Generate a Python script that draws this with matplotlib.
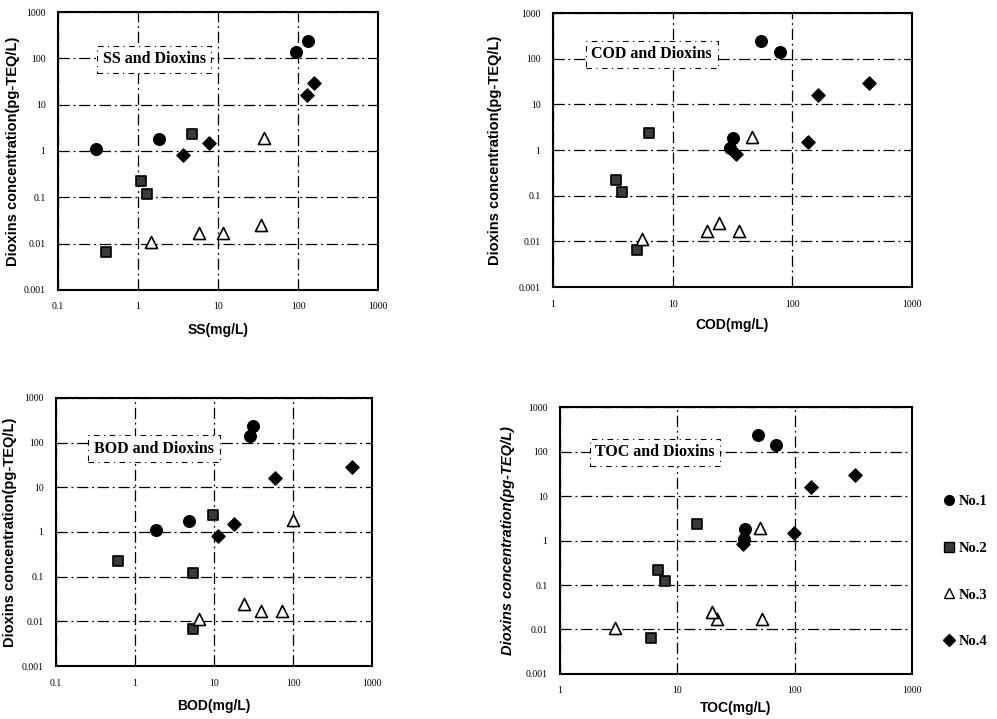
import matplotlib
matplotlib.use("Agg")
import matplotlib.pyplot as plt
from matplotlib.lines import Line2D

# ---------------- data ----------------
series_names = ["No.1", "No.2", "No.3", "No.4"]

# dioxin concentrations (pg-TEQ/L) per sample group
diox_no1 = [1.1, 1.8, 140, 240]
diox_no2 = [0.0066, 0.22, 0.12, 2.35]
diox_no3 = [0.011, 0.017, 0.017, 0.025, 1.9]
diox_no4 = [0.83, 1.5, 16, 29]

# SS (mg/L)
ss_no1 = [0.3, 1.85, 95, 135]
ss_no2 = [0.4, 1.09, 1.3, 4.7]
ss_no3 = [1.44, 5.8, 11.7, 34, 38]
ss_no4 = [3.6, 7.8, 128, 158]

# COD (mg/L)
cod_no1 = [30, 32, 79, 55]
cod_no2 = [5.0, 3.36, 3.75, 6.4]
cod_no3 = [5.5, 19.5, 35.8, 24.5, 45.7]
cod_no4 = [34, 134, 165, 440]

# BOD (mg/L)
bod_no1 = [1.84, 4.87, 28.6, 31]
bod_no2 = [5.47, 0.61, 5.47, 9.6]
bod_no3 = [6.5, 39, 72, 24, 101]
bod_no4 = [11.1, 17.9, 59, 553]

# TOC (mg/L)
toc_no1 = [37, 37.8, 69, 49]
toc_no2 = [5.97, 6.9, 7.86, 14.8]
toc_no3 = [2.94, 22, 53, 19.6, 50.7]
toc_no4 = [36.5, 99, 137, 327]

y_ticks = [0.001, 0.01, 0.1, 1, 10, 100, 1000]
y_ticklabels = ["0.001", "0.01", "0.1", "1", "10", "100", "1000"]
x_ticks_a = [0.1, 1, 10, 100, 1000]
x_ticklabels_a = ["0.1", "1", "10", "100", "1000"]
x_ticks_b = [1, 10, 100, 1000]
x_ticklabels_b = ["1", "10", "100", "1000"]

panel_titles = ["SS and Dioxins", "COD and Dioxins", "BOD and Dioxins", "TOC and Dioxins"]
x_labels = ["SS(mg/L)", "COD(mg/L)", "BOD(mg/L)", "TOC(mg/L)"]
y_label = "Dioxins concentration(pg-TEQ/L)"

# ---------------- figure ----------------
fig = plt.figure(figsize=(9.97, 7.19), dpi=100)
fig.patch.set_facecolor("white")

panels = [
    dict(rect=[0.0582, 0.5967, 0.321, 0.3866], xs=[ss_no1, ss_no2, ss_no3, ss_no4],
         xt=x_ticks_a, xtl=x_ticklabels_a, tpos=(0.30, 0.83), italic=False, ylx=-0.119, xlp=8),
    dict(rect=[0.5547, 0.6008, 0.360, 0.3811], xs=[cod_no1, cod_no2, cod_no3, cod_no4],
         xt=x_ticks_b, xtl=x_ticklabels_b, tpos=(0.275, 0.85), italic=False, ylx=-0.142, xlp=7),
    dict(rect=[0.0562, 0.0737, 0.317, 0.3728], xs=[bod_no1, bod_no2, bod_no3, bod_no4],
         xt=x_ticks_a, xtl=x_ticklabels_a, tpos=(0.31, 0.81), italic=False, ylx=-0.123, xlp=8),
    dict(rect=[0.5617, 0.0626, 0.353, 0.3713], xs=[toc_no1, toc_no2, toc_no3, toc_no4],
         xt=x_ticks_b, xtl=x_ticklabels_b, tpos=(0.27, 0.83), italic=True, ylx=-0.128, xlp=4),
]

ys = [diox_no1, diox_no2, diox_no3, diox_no4]
styles = [
    dict(marker="o", s=70, facecolor="black", edgecolor="black", lw=1.0),
    dict(marker="s", s=55, facecolor="#3a3a3a", edgecolor="black", lw=1.2),
    dict(marker="^", s=75, facecolor="white", edgecolor="black", lw=1.2),
    dict(marker="D", s=45, facecolor="black", edgecolor="black", lw=1.0),
]

serif = ["Liberation Serif", "DejaVu Serif"]
sans = ["Liberation Sans", "DejaVu Sans"]

for i, p in enumerate(panels):
    ax = fig.add_axes(p["rect"])
    ax.set_xscale("log")
    ax.set_yscale("log")
    ax.set_xlim(p["xt"][0], p["xt"][-1])
    ax.set_ylim(y_ticks[0], y_ticks[-1])
    ax.set_xticks(p["xt"])
    ax.set_xticklabels(p["xtl"], fontsize=7, family=serif)
    ax.set_yticks(y_ticks)
    ax.set_yticklabels(y_ticklabels, fontsize=7, family=serif)
    ax.minorticks_off()
    ax.tick_params(length=0, pad=9)
    ax.grid(True, which="major", color="black", linewidth=0.9,
            linestyle=(0, (9, 3, 1.5, 3)))
    ax.set_axisbelow(True)
    for sp in ax.spines.values():
        sp.set_linewidth(1.5)
        sp.set_color("black")
    for xv, yv, st in zip(p["xs"], ys, styles):
        ax.scatter(xv, yv, marker=st["marker"], s=st["s"], facecolor=st["facecolor"],
                   edgecolor=st["edgecolor"], linewidths=st["lw"], zorder=3)
    ax.set_xlabel(x_labels[i], fontsize=10, fontweight="bold", family=sans, labelpad=p["xlp"])
    ax.set_ylabel(y_label, fontsize=10.5, fontweight="bold", family=sans,
                  style="italic" if p["italic"] else "normal")
    ax.yaxis.set_label_coords(p["ylx"], 0.5)
    ax.text(p["tpos"][0], p["tpos"][1], panel_titles[i], transform=ax.transAxes,
            ha="center", va="center", fontsize=11.5, fontweight="bold", family=serif,
            zorder=4,
            bbox=dict(boxstyle="square,pad=0.35", facecolor="white", edgecolor="black",
                      linewidth=0.8, linestyle=(0, (5, 4, 1, 4))))

handles = [Line2D([], [], linestyle="none", marker=st["marker"], markersize=7 if st["marker"] != "D" else 6,
                  markerfacecolor=st["facecolor"], markeredgecolor="black", markeredgewidth=1.0)
           for st in styles]
fig.legend(handles, series_names, loc="center", bbox_to_anchor=(0.968, 0.205),
           frameon=False, handlelength=0.8, handletextpad=0.3, labelspacing=2.3,
           prop=dict(family=serif, weight="bold", size=10.5))

fig.savefig("out.png", dpi=100, facecolor="white")
